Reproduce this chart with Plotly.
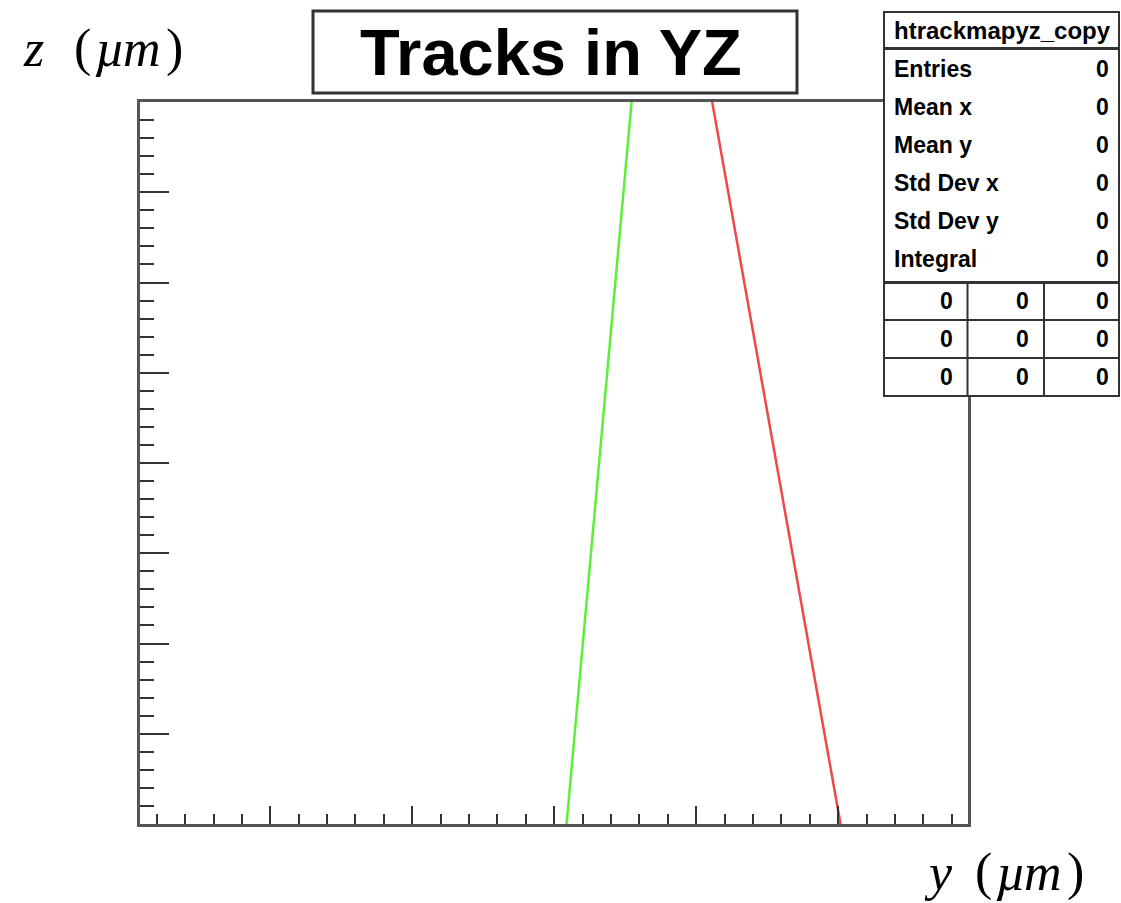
import plotly.graph_objects as go

# ---- data -------------------------------------------------------------
# track endpoints in the y-z plane (micrometres)
green_track_y = [8.7, 54.5]
green_track_z = [0.0, 800.0]
red_track_y = [201.7, 111.3]
red_track_z = [0.0, 800.0]

y_range = [-291.8, 291.5]
z_range = [0.0, 800.0]

stats_title = "htrackmapyz_copy"
stats_labels = ["Entries", "Mean x", "Mean y", "Std Dev x", "Std Dev y", "Integral"]
stats_values = ["0", "0", "0", "0", "0", "0"]
cell_values = [["0", "0", "0"], ["0", "0", "0"], ["0", "0", "0"]]

W, H = 1121, 903


def px(x):
    return x / W


def py(y):
    return 1 - y / H


fig = go.Figure()
fig.add_trace(go.Scatter(x=green_track_y, y=green_track_z, mode="lines",
                         line=dict(color="#5cef38", width=2.5), showlegend=False))
fig.add_trace(go.Scatter(x=red_track_y, y=red_track_z, mode="lines",
                         line=dict(color="#f04848", width=2.5), showlegend=False))

frame = "#555555"
tickc = "#333333"
fig.update_layout(
    width=W, height=H, margin=dict(l=0, r=0, t=0, b=0),
    paper_bgcolor="white", plot_bgcolor="white",
    xaxis=dict(domain=[px(140), px(968)], range=y_range, showgrid=False, zeroline=False,
               showline=True, linecolor=frame, linewidth=3, mirror=True,
               ticks="inside", tick0=0, dtick=100, ticklen=18, tickwidth=2, tickcolor=tickc,
               minor=dict(dtick=20, ticks="inside", ticklen=10, tickwidth=2, tickcolor=tickc),
               showticklabels=False),
    yaxis=dict(domain=[py(824), py(102)], range=z_range, showgrid=False, zeroline=False,
               showline=True, linecolor=frame, linewidth=3, mirror=True,
               ticks="inside", tick0=0, dtick=100, ticklen=29, tickwidth=2, tickcolor=tickc,
               minor=dict(dtick=20, ticks="inside", ticklen=14, tickwidth=2, tickcolor=tickc),
               showticklabels=False),
)

shapes = []
line_c = "#333333"
# title box
shapes.append(dict(type="rect", xref="paper", yref="paper", x0=px(313), x1=px(797),
                   y0=py(93), y1=py(11), line=dict(color=line_c, width=3), fillcolor="white",
                   layer="above"))
# statistics box
shapes.append(dict(type="rect", xref="paper", yref="paper", x0=px(884), x1=px(1119),
                   y0=py(396), y1=py(12), line=dict(color=line_c, width=2), fillcolor="white",
                   layer="above"))
for yy, w in [(48.5, 3), (282.5, 3), (320, 2), (358, 2)]:
    shapes.append(dict(type="line", xref="paper", yref="paper", x0=px(884), x1=px(1119),
                       y0=py(yy), y1=py(yy), line=dict(color=line_c, width=w), layer="above"))
for xx in [967.5, 1044]:
    shapes.append(dict(type="line", xref="paper", yref="paper", x0=px(xx), x1=px(xx),
                       y0=py(282.5), y1=py(396), line=dict(color=line_c, width=2), layer="above"))
fig.update_layout(shapes=shapes)

ann = []
bold = "Liberation Sans"


def text(s, x, y, size, family, anchor="left"):
    ann.append(dict(text=s, x=px(x), y=py(y), xref="paper", yref="paper",
                    showarrow=False, xanchor=anchor, yanchor="middle",
                    font=dict(family=family, size=size, color="black")))


text("<b>Tracks in YZ</b>", 551, 52, 65, bold, "center")
text("<b>" + stats_title + "</b>", 1002, 31, 24, bold, "center")
row_y = [69, 107, 145, 183, 221, 259]
for lab, val, yy in zip(stats_labels, stats_values, row_y):
    text("<b>" + lab + "</b>", 892, yy, 23, bold, "left")
    text("<b>" + val + "</b>", 1111, yy, 23, bold, "right")
cell_y = [301, 339, 377]
cell_x = [955, 1031, 1111]
for row, yy in zip(cell_values, cell_y):
    for v, xx in zip(row, cell_x):
        text("<b>" + v + "</b>", xx, yy, 23, bold, "right")

# axis titles, set glyph by glyph in an italic serif face
serif = "Liberation Serif"


def axis_title(var, x0, yc):
    pieces = [("<i>" + var + "</i>", 0), ("(", 51), ("<i>µ</i>", 72), ("<i>m</i>", 100), (")", 143)]
    for s, dx in pieces:
        text(s, x0 + dx, yc, 52, serif, "left")


axis_title("z", 21, 48)
axis_title("y", 922, 872)
fig.update_layout(annotations=ann)

fig.write_html("out.html")
